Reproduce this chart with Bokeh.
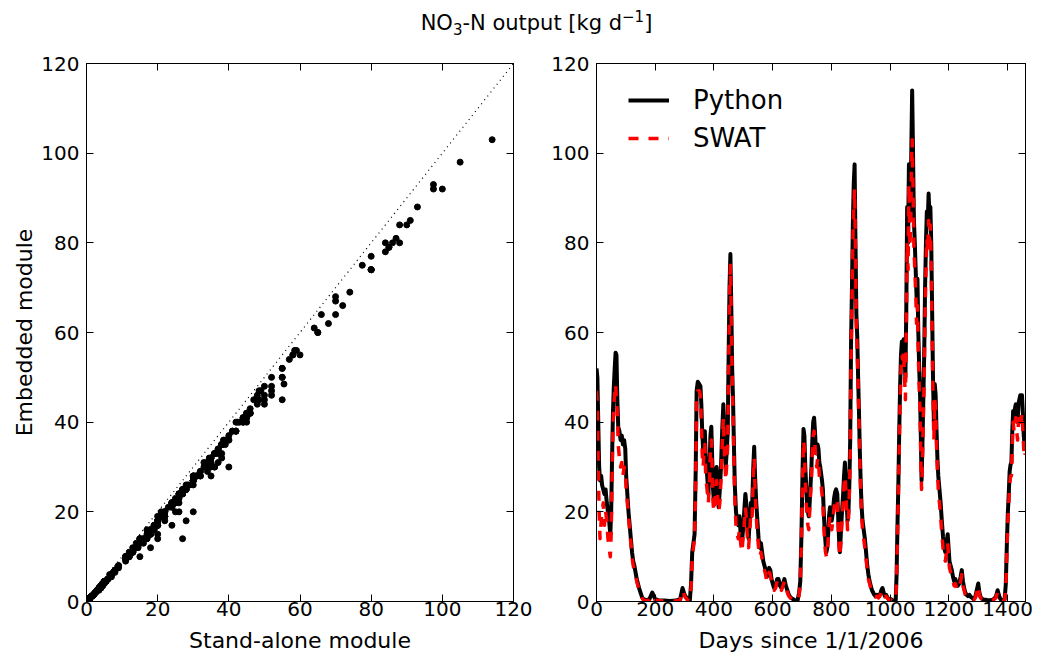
from bokeh.plotting import figure
from bokeh.layouts import row, column
from bokeh.models import (Div, LinearAxis, Range1d, Legend, LegendItem, FixedTicker, Slope,
                          CustomLabelingPolicy)
from bokeh.embed import file_html
from bokeh.resources import INLINE

# ---------------- data ----------------
days = [
    0, 3, 6, 9, 12, 16, 19, 23, 27, 31,
    35, 39, 43, 47, 50, 53, 56, 59, 62, 65,
    68, 71, 74, 78, 82, 86, 90, 94, 98, 101,
    105, 109, 113, 117, 121, 125, 129, 133, 137, 141,
    145, 150, 155, 160, 170, 180, 190, 200, 210, 230,
    250, 270, 285, 293, 300, 310, 318, 322, 326, 330,
    334, 338, 341, 345, 350, 354, 357, 360, 363, 366,
    369, 372, 375, 378, 381, 385, 388, 391, 394, 397,
    400, 403, 406, 409, 412, 416, 420, 424, 428, 432,
    436, 440, 444, 447, 450, 453, 456, 459, 462, 465,
    468, 471, 475, 479, 483, 487, 491, 495, 499, 503,
    507, 510, 514, 518, 522, 526, 530, 534, 537, 540,
    544, 548, 552, 556, 560, 564, 568, 572, 576, 580,
    584, 588, 592, 596, 600, 605, 610, 615, 620, 625,
    630, 635, 640, 645, 650, 655, 660, 665, 670, 675,
    680, 685, 690, 694, 698, 702, 705, 708, 711, 714,
    717, 720, 723, 726, 729, 732, 735, 738, 741, 744,
    747, 750, 753, 756, 759, 762, 765, 768, 771, 774,
    777, 780, 783, 786, 789, 792, 795, 798, 801, 805,
    809, 813, 816, 820, 823, 826, 829, 832, 836, 840,
    843, 846, 849, 852, 855, 858, 861, 864, 867, 870,
    873, 876, 879, 882, 885, 888, 891, 894, 897, 900,
    903, 906, 910, 914, 918, 922, 926, 930, 934, 938,
    942, 946, 950, 955, 960, 965, 970, 974, 978, 982,
    986, 990, 995, 1000, 1005, 1010, 1015, 1019, 1022, 1025,
    1028, 1031, 1034, 1037, 1040, 1043, 1046, 1049, 1052, 1055,
    1058, 1061, 1064, 1067, 1070, 1073, 1075, 1078, 1081, 1084,
    1087, 1090, 1093, 1096, 1099, 1102, 1105, 1107, 1110, 1113,
    1116, 1119, 1122, 1125, 1128, 1131, 1134, 1137, 1140, 1143,
    1146, 1149, 1152, 1155, 1158, 1161, 1164, 1168, 1172, 1176,
    1180, 1184, 1188, 1192, 1196, 1199, 1202, 1206, 1210, 1214,
    1218, 1222, 1226, 1230, 1235, 1240, 1244, 1248, 1252, 1256,
    1260, 1265, 1270, 1275, 1280, 1285, 1290, 1295, 1300, 1304,
    1308, 1313, 1318, 1325, 1330, 1340, 1350, 1360, 1366, 1370,
    1375, 1380, 1385, 1390, 1394, 1398, 1401, 1404, 1407, 1410,
    1413, 1416, 1419, 1422, 1425, 1428, 1431, 1434, 1437, 1440,
    1443, 1446, 1449, 1452, 1455, 1458, 1460,
]

python_out = [
    52, 50, 40, 30, 27, 28, 26, 25, 24, 25,
    22, 20, 18, 15, 20, 32, 42, 48, 52, 55.5,
    55, 45, 39, 38, 36, 37, 35, 36, 34, 28,
    24, 20, 17, 14, 11, 9, 8, 6.5, 5, 4,
    3, 2, 1, 0.5, 0.3, 0.5, 2, 0.5, 0.3, 0.2,
    0.1, 0.2, 0.5, 3, 1.5, 0.5, 0.3, 4, 11, 13,
    15, 30, 47, 49, 48.5, 48, 44, 38, 34, 36,
    38, 32, 30, 27, 24, 30, 37, 39, 32, 25,
    22, 24, 28, 30, 27, 21, 25, 30, 38, 44,
    37, 30, 34, 38, 55, 70, 77.5, 66, 52, 45,
    35, 26, 20, 18, 17, 19, 15, 13, 16, 20,
    24, 22, 17, 14, 18, 22, 21, 30, 34.5, 28,
    22, 18, 14, 12, 13, 11, 9, 8, 7, 5.5,
    6, 7.5, 7, 5, 4, 3, 3.5, 5, 5, 3.5,
    3, 4, 5, 3.5, 2.5, 1.5, 1, 0.7, 0.5, 0.3,
    0.2, 0.3, 2, 4.5, 15, 30, 38.5, 37, 30, 26,
    22, 20, 19, 22, 26, 30, 36, 40, 41, 38,
    34, 33, 35, 34, 31, 30, 28.5, 27, 25, 20,
    16, 13, 11, 12, 15, 19, 21, 20, 18, 20,
    23, 24.5, 25, 24, 19, 14, 11, 15, 20, 24,
    28, 31, 27, 22, 18, 20, 26, 36, 58, 70,
    84, 93, 97.5, 80, 64, 59, 50, 42, 33, 26,
    21, 18, 16, 14, 11, 8, 6, 4.5, 3.5, 2.5,
    2, 1.5, 1.2, 1.5, 1, 1.5, 2.5, 3, 2, 1.2,
    1.5, 1, 0.5, 0.6, 0.4, 0.2, 0.1, 0.3, 6, 17,
    26, 38, 48, 55, 58, 57, 58.5, 55, 50, 65,
    88, 80, 97.5, 85, 90, 105, 114, 100, 85, 80,
    74, 68, 72, 60, 52, 46, 35, 27, 35, 45,
    55, 70, 80, 87, 84, 91, 86, 88, 80, 65,
    50, 40, 48.5, 46, 38, 32, 28, 25, 22, 18,
    14.5, 12, 11, 13, 15, 12, 9, 8, 7, 5.5,
    4.5, 5, 4, 3.5, 4, 5.5, 7, 4.5, 3, 2,
    1.5, 1.2, 1.5, 1, 0.8, 0.5, 1, 2.5, 4, 2,
    1, 0.6, 0.4, 0.4, 0.3, 0.3, 0.4, 1, 2.5, 1.5,
    0.6, 0.3, 0.2, 0.5, 4, 14, 20, 24, 29, 30.5,
    31, 38, 42.5, 41, 43, 44, 42, 40, 44, 45,
    46, 45, 46, 42, 37, 35, 36,
]

swat_out = [
    47, 44, 30, 20, 14, 18, 20, 22, 17, 20,
    18, 14, 12, 10, 15, 28, 38, 44, 46, 48.5,
    45, 42, 35, 32, 30, 31, 28, 30, 29, 25,
    22, 19, 16, 13, 10, 8, 7, 6, 4.5, 3.5,
    2.5, 1.5, 0.8, 0.3, 0.2, 0.3, 1.5, 0.3, 0.2, 0.1,
    0.1, 0.1, 0.3, 2.5, 1.2, 0.3, 0.2, 3, 10, 12,
    14, 28, 45, 47, 47, 46, 40, 33, 30, 33,
    35, 28, 26, 24, 22, 27, 34, 36, 29, 22,
    20, 22, 25, 27, 24, 20, 22, 27, 35, 41,
    33, 27, 31, 35, 52, 68, 75, 64, 50, 42,
    32, 23, 17, 15, 14, 16, 13, 11, 14, 17,
    21, 19, 14, 12, 16, 20, 19, 28, 32, 25,
    19, 15, 12, 10, 11, 9.5, 8, 7, 6, 4.5,
    5, 6.5, 6, 4.5, 3.5, 2.5, 3, 4.5, 4.5, 3,
    2.5, 3.5, 4.5, 3, 2, 1.2, 0.8, 0.5, 0.3, 0.2,
    0.1, 0.2, 1.5, 4, 14, 28, 36, 34, 27, 22,
    19, 17, 16, 20, 24, 27, 33, 37, 38, 35,
    31, 30, 32, 31, 28, 27, 26, 24, 22, 17,
    13, 11, 10, 11, 14, 17, 19, 18, 16, 18,
    21, 22, 23, 22, 17, 12, 10, 13, 18, 22,
    26, 28, 25, 20, 16, 18, 24, 33, 55, 67,
    80, 88, 92, 77, 61, 56, 48, 40, 31, 24,
    19, 16, 14, 12, 9.5, 7, 5, 4, 3, 2,
    1.6, 1.2, 1, 1.2, 0.8, 1.2, 2, 2.5, 1.6, 1,
    1.2, 0.8, 0.4, 0.5, 0.3, 0.1, 0.1, 0.2, 5, 15,
    24, 35, 45, 52, 55, 54, 56, 50, 45, 60,
    80, 74, 93, 79, 84, 98, 103, 92, 79, 74,
    69, 62, 66, 55, 48, 42, 30, 25, 31, 41,
    50, 64, 74, 81, 78, 85, 80, 84, 74, 60,
    46, 36, 45, 43, 35, 29, 25, 22, 19, 15,
    12, 10, 9, 11, 13, 10, 7.5, 6.5, 5.5, 4.5,
    3.5, 4, 3, 2.5, 3, 4.5, 6, 3.5, 2.5, 1.5,
    1.2, 1, 1.2, 0.8, 0.6, 0.4, 0.8, 2, 3.5, 1.5,
    0.8, 0.5, 0.3, 0.3, 0.2, 0.2, 0.3, 0.8, 2, 1.2,
    0.5, 0.2, 0.1, 0.4, 3, 12, 18, 22, 26, 28,
    28, 35, 40, 38, 40, 41, 38, 36, 40, 41,
    42, 40, 42, 38, 34, 32, 33,
]

assert len(days) == len(python_out) == len(swat_out)

value_ticks = [0, 20, 40, 60, 80, 100, 120]
day_ticks = [0, 200, 400, 600, 800, 1000, 1200, 1400]
series_labels = ["Python", "SWAT"]
x_label_left = "Stand-alone module"
y_label_left = "Embedded module"
x_label_right = "Days since 1/1/2006"

FONT = "DejaVu Sans"
TICK_SIZE = "20px"
LABEL_SIZE = "22px"


def style_axis(ax, ticks, show_labels=True, standoff=2):
    ax.ticker = FixedTicker(ticks=ticks)
    ax.axis_line_color = "black"
    ax.axis_line_width = 1
    ax.major_tick_line_color = "black"
    ax.major_tick_line_width = 1
    ax.major_tick_in = 7
    ax.major_tick_out = 0
    ax.minor_tick_in = 0
    ax.minor_tick_out = 0
    ax.minor_tick_line_color = None
    ax.major_label_text_font = FONT
    ax.major_label_text_color = "black"
    ax.axis_label_text_font = FONT
    ax.axis_label_text_font_size = LABEL_SIZE
    ax.axis_label_text_font_style = "normal"
    ax.axis_label_text_color = "black"
    if show_labels:
        ax.major_label_text_font_size = TICK_SIZE
        ax.major_label_standoff = standoff
    else:
        ax.major_label_text_font_size = "0px"
        ax.major_label_standoff = 0
        ax.major_label_policy = CustomLabelingPolicy(code="return new Set()")


def finish(p, xticks, yticks, xlabel, ylabel=None):
    p.grid.visible = False
    p.outline_line_color = "black"
    bottom = p.below[0]
    left = p.left[0]
    style_axis(bottom, xticks, True, 0)
    style_axis(left, yticks, True, 7)
    bottom.axis_label = xlabel
    bottom.axis_label_standoff = 9
    if ylabel:
        left.axis_label = ylabel
        left.axis_label_standoff = 1
    top = LinearAxis()
    style_axis(top, xticks, False)
    p.add_layout(top, "above")
    right = LinearAxis()
    style_axis(right, yticks, False)
    p.add_layout(right, "right")


H = 615

# ---------------- left: scatter ----------------
p1 = figure(width=533, height=H, x_range=Range1d(0, 120), y_range=Range1d(0, 120),
            output_backend="svg", toolbar_location=None,
            min_border_left=86, min_border_right=20, min_border_top=23, min_border_bottom=54,
            background_fill_color="white", border_fill_color="white")
p1.add_layout(Slope(gradient=1, y_intercept=0, line_color="black", line_width=1.2,
                    line_dash="1 4"))
p1.scatter(x=python_out, y=swat_out, size=6, marker="circle",
           fill_color="black", line_color="black")
finish(p1, value_ticks, value_ticks, x_label_left, y_label_left)

# ---------------- right: time series ----------------
p2 = figure(width=502, height=H, x_range=Range1d(0, 1461), y_range=Range1d(0, 120),
            output_backend="svg", toolbar_location=None,
            min_border_left=63, min_border_right=10, min_border_top=23, min_border_bottom=54,
            background_fill_color="white", border_fill_color="white")
r_py = p2.line(days, python_out, line_color="black", line_width=4, line_join="round")
r_sw = p2.line(days, swat_out, line_color="red", line_width=3.5, line_dash="10 10",
               line_join="round")
finish(p2, day_ticks, value_ticks, x_label_right)

legend = Legend(items=[LegendItem(label=series_labels[0], renderers=[r_py]),
                       LegendItem(label=series_labels[1], renderers=[r_sw])],
                location=(32, 448), orientation="vertical",
                border_line_alpha=0, background_fill_alpha=0,
                label_text_font=FONT, label_text_font_size="26px", label_text_color="black",
                glyph_width=41, glyph_height=30, label_height=30, label_standoff=24,
                spacing=8, padding=0, margin=0)
p2.add_layout(legend)

title = Div(text='<div style="width:1037px;text-align:center;font-family:\'DejaVu Sans\';'
                 'font-size:21px;color:black;margin-top:7px">'
                 '<span style="position:relative;left:18px">'
                 'NO<sub style="font-size:15px">3</sub>-N output [kg d<sup style="font-size:15px">&minus;1</sup>]'
                 '</span></div>',
            width=1035, height=40, margin=0)

layout = column(title, row(p1, p2, spacing=0), spacing=0)

open("out.html", "w").write(file_html(layout, INLINE))
